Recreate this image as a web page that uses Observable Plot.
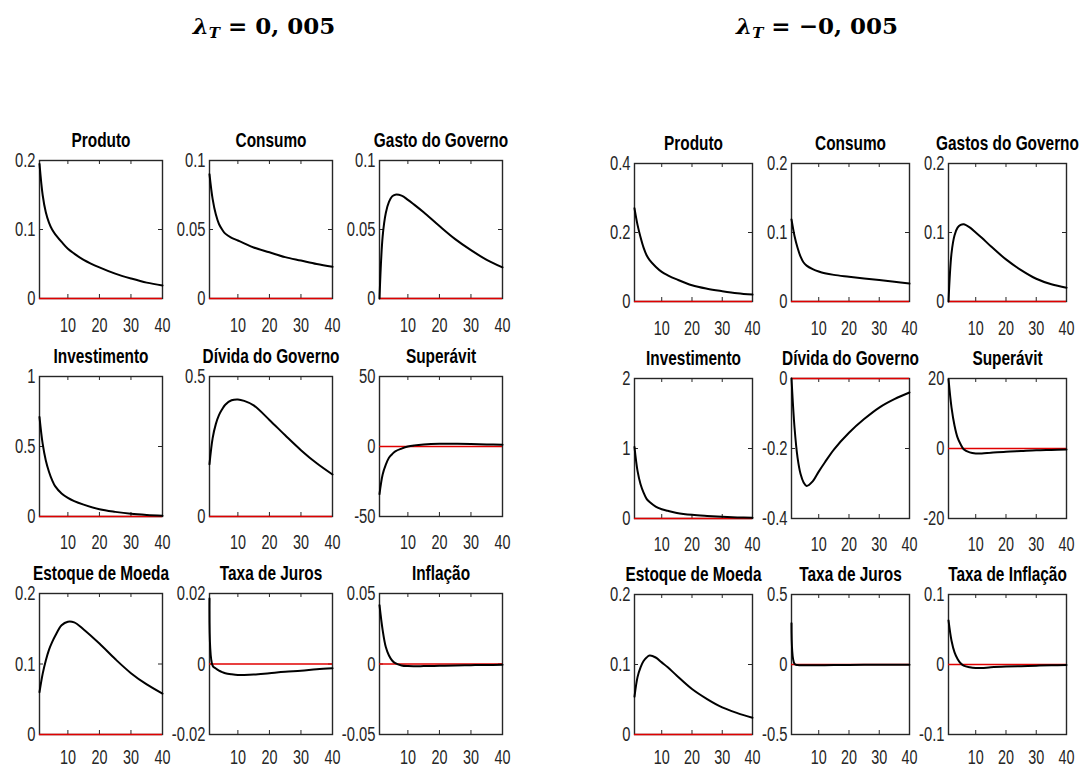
<!DOCTYPE html>
<html><head><meta charset="utf-8">
<script src="https://cdn.jsdelivr.net/npm/d3@7"></script>
<script src="https://cdn.jsdelivr.net/npm/@observablehq/plot@0.6"></script>
<style>
body{margin:0;background:#fff}
#root{position:relative;width:1082px;height:769px;overflow:hidden;background:#fff}
.panel{position:absolute}
.main-title{position:absolute;top:11px;font-family:"DejaVu Serif",serif;font-weight:bold;font-size:23px;transform:translateX(-50%);white-space:nowrap;color:#000;line-height:30px}
.main-title sub{font-size:15px;vertical-align:-4px;line-height:0}
</style></head><body><div id="root"></div><script>
const periods = [1,2,3,4,5,6,8,10,12,15,20,25,30,35,40];
const xTicks = [10,20,30,40];

// Left block: lambda_T = 0,005
const titlesLeft = ["Produto","Consumo","Gasto do Governo","Investimento","Dívida do Governo","Superávit","Estoque de Moeda","Taxa de Juros","Inflação"];
const L_produto   = [0.195,0.15,0.125,0.11,0.10,0.093,0.082,0.072,0.065,0.056,0.045,0.036,0.029,0.023,0.019];
const L_consumo   = [0.090,0.072,0.061,0.054,0.050,0.047,0.044,0.042,0.040,0.037,0.0335,0.030,0.0275,0.025,0.023];
const L_gasto     = [0,0.045,0.062,0.070,0.074,0.0752,0.0745,0.0715,0.068,0.0625,0.0525,0.043,0.035,0.028,0.0225];
const L_invest    = [0.71,0.52,0.40,0.32,0.26,0.215,0.165,0.133,0.11,0.085,0.052,0.033,0.019,0.011,0.006];
const L_divida    = [0.187,0.28,0.33,0.362,0.383,0.399,0.415,0.418,0.413,0.397,0.345,0.29,0.237,0.19,0.15];
const L_superavit = [-34,-20,-13,-8,-5.5,-3.5,-1.5,0,0.8,1.5,2,2,1.8,1.5,1.2];
const L_moeda     = [0.060,0.086,0.105,0.12,0.131,0.14,0.155,0.160,0.159,0.149,0.129,0.107,0.087,0.071,0.058];
const L_juros     = [0.0186,-0.0005,-0.0013,-0.0019,-0.0023,-0.0026,-0.0029,-0.0031,-0.0031,-0.003,-0.0026,-0.0022,-0.0019,-0.0015,-0.0012];
const L_inflacao  = [0.0417,0.024,0.012,0.006,0.0025,0.0006,-0.001,-0.0015,-0.0016,-0.0015,-0.0013,-0.001,-0.0008,-0.0007,-0.0006];
const yDomLeft = [[0,0.2],[0,0.1],[0,0.1],[0,1],[0,0.5],[-50,50],[0,0.2],[-0.02,0.02],[-0.05,0.05]];
const yTicksLeft = [[0,0.1,0.2],[0,0.05,0.1],[0,0.05,0.1],[0,0.5,1],[0,0.5],[-50,0,50],[0,0.1,0.2],[-0.02,0,0.02],[-0.05,0,0.05]];

// Right block: lambda_T = -0,005
const titlesRight = ["Produto","Consumo","Gastos do Governo","Investimento","Dívida do Governo","Superávit","Estoque de Moeda","Taxa de Juros","Taxa de Inflação"];
const R_produto   = [0.27,0.222,0.186,0.156,0.134,0.12,0.101,0.086,0.076,0.064,0.047,0.037,0.03,0.024,0.02];
const R_consumo   = [0.119,0.095,0.078,0.065,0.0565,0.052,0.047,0.0435,0.041,0.0386,0.036,0.0335,0.031,0.0285,0.026];
const R_gasto     = [0,0.07,0.096,0.107,0.111,0.112,0.1075,0.100,0.0925,0.080,0.061,0.0455,0.033,0.025,0.020];
const R_invest    = [1.02,0.68,0.49,0.37,0.28,0.235,0.17,0.133,0.11,0.08,0.052,0.036,0.024,0.016,0.01];
const R_divida    = [0,-0.14,-0.226,-0.273,-0.297,-0.307,-0.294,-0.266,-0.24,-0.203,-0.155,-0.116,-0.083,-0.059,-0.04];
const R_superavit = [19.8,11.7,6.5,3.1,1.2,-0.2,-1.1,-1.4,-1.4,-1.2,-0.9,-0.7,-0.5,-0.4,-0.3];
const R_moeda     = [0.054,0.082,0.096,0.105,0.110,0.1127,0.110,0.103,0.096,0.084,0.065,0.0506,0.0387,0.0306,0.024];
const R_juros     = [0.295,0.005,-0.004,-0.005,-0.006,-0.006,-0.006,-0.005,-0.005,-0.004,-0.003,-0.0025,-0.002,-0.0015,-0.001];
const R_inflacao  = [0.063,0.034,0.0174,0.0079,0.0017,-0.0017,-0.004,-0.005,-0.005,-0.004,-0.003,-0.0024,-0.0017,-0.0012,-0.0007];
const yDomRight = [[0,0.4],[0,0.2],[0,0.2],[0,2],[-0.4,0],[-20,20],[0,0.2],[-0.5,0.5],[-0.1,0.1]];
const yTicksRight = [[0,0.2,0.4],[0,0.1,0.2],[0,0.1,0.2],[0,1,2],[-0.4,-0.2,0],[-20,0,20],[0,0.1,0.2],[-0.5,0,0.5],[-0.1,0,0.1]];

const seriesLeft = [L_produto,L_consumo,L_gasto,L_invest,L_divida,L_superavit,L_moeda,L_juros,L_inflacao];
const seriesRight = [R_produto,R_consumo,R_gasto,R_invest,R_divida,R_superavit,R_moeda,R_juros,R_inflacao];

const FONT = '"Liberation Sans",Arial,sans-serif';
const root = document.getElementById("root");

// squeeze text horizontally around its anchor to mimic the narrow font of the original
function squeeze(svg, titleText) {
  for (const t of svg.querySelectorAll("text")) {
    const k = t.textContent === titleText ? 0.79 : 0.72;
    if (t.hasAttribute("x")) t.setAttribute("x", (+t.getAttribute("x")) / k);
    for (const s of t.querySelectorAll("tspan[x]")) s.setAttribute("x", (+s.getAttribute("x")) / k);
    const tr = t.getAttribute("transform") || "";
    t.setAttribute("transform", (tr + " scale(" + k + ",1)").trim());
  }
}

function panel(left, top, w, h, title, values, domain, ticks, xPad) {
  const mL = 52, mR = 16, mT = 34, mB = 40;
  const data = periods.map((p, i) => ({p, v: values[i]}));
  const span = domain[1] - domain[0];
  const ty = span * 4 / h;      // inward tick length along y
  const tx = 39 * 4 / w;        // inward tick length along x
  const ink = "#262626";
  const svg = Plot.plot({
    width: w + mL + mR, height: h + mT + mB,
    marginLeft: mL, marginRight: mR, marginTop: mT, marginBottom: mB,
    style: {fontFamily: FONT, fontSize: "20px", background: "transparent", overflow: "visible"},
    x: {domain: [1, 40], label: null},
    y: {domain, label: null},
    marks: [
      Plot.frame({stroke: ink, strokeWidth: 1.4}),
      Plot.ruleX(xTicks, {x: d => d, y1: domain[0], y2: domain[0] + ty, stroke: ink, strokeWidth: 1}),
      Plot.ruleX(xTicks, {x: d => d, y1: domain[1], y2: domain[1] - ty, stroke: ink, strokeWidth: 1}),
      Plot.ruleY(ticks, {y: d => d, x1: 1, x2: 1 + tx, stroke: ink, strokeWidth: 1}),
      Plot.ruleY(ticks, {y: d => d, x1: 40, x2: 40 - tx, stroke: ink, strokeWidth: 1}),
      Plot.axisX(xTicks, {tickSize: 0, tickPadding: xPad, fontSize: 20, fill: ink, label: null}),
      Plot.axisY(ticks, {tickSize: 0, tickPadding: 4, fontSize: 20.5, fill: ink, label: null, tickFormat: d => String(d)}),
      Plot.ruleY([0], {stroke: "#e00000", strokeWidth: 1.5}),
      Plot.line(data, {x: "p", y: "v", curve: "catmull-rom", stroke: "black", strokeWidth: 2}),
      Plot.text([title], {frameAnchor: "top", lineAnchor: "bottom", dy: -14, fontSize: 19.5, fontWeight: "bold", fill: "black"})
    ]
  });
  svg.classList.add("panel");
  svg.style.position = "absolute";
  svg.style.left = (left - mL) + "px";
  svg.style.top = (top - mT) + "px";
  root.appendChild(svg);
  squeeze(svg, title);
}

const leftCols = [39, 209, 379], leftW = 123;
const leftRows = [160, 376, 593], leftH = [138, 140, 141];
const rightCols = [634, 791, 948], rightW = 118;
const rightRows = [163, 378, 594], rightH = [138, 140, 140];
const xPads = [19, 18, 15];

for (let i = 0; i < 9; i++) {
  const r = Math.floor(i / 3), c = i % 3;
  panel(leftCols[c], leftRows[r], leftW, leftH[r], titlesLeft[i], seriesLeft[i], yDomLeft[i], yTicksLeft[i], xPads[r]);
  panel(rightCols[c], rightRows[r], rightW, rightH[r], titlesRight[i], seriesRight[i], yDomRight[i], yTicksRight[i], xPads[r]);
}

function mainTitle(x, value) {
  const d = document.createElement("div");
  d.className = "main-title";
  d.style.left = x + "px";
  d.innerHTML = '<i>λ</i><sub><i>T</i></sub> = ' + value;
  root.appendChild(d);
}
mainTitle(264, "0, 005");
mainTitle(817, "−0, 005");
</script></body></html>
